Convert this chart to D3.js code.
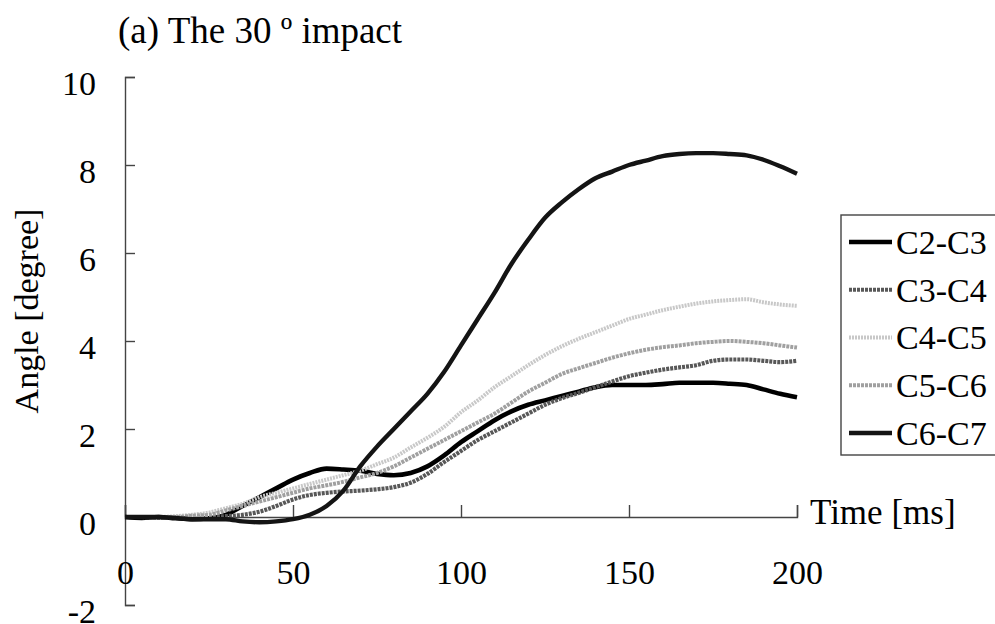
<!DOCTYPE html>
<html>
<head>
<meta charset="utf-8">
<script src="https://cdn.jsdelivr.net/npm/d3@7"></script>
<style>
  html, body { margin: 0; padding: 0; background: #fff; }
  svg { display: block; }
  text { font-family: "Liberation Serif", "Times New Roman", serif; fill: #000; }
</style>
</head>
<body>
<div id="chart"></div>
<script>
// Time samples [ms]
const timeMs = [0, 5, 10, 15, 20, 25, 30, 35, 40, 45, 50, 55, 60, 65, 70, 75, 80, 85, 90, 95,
  100, 105, 110, 115, 120, 125, 130, 135, 140, 145, 150, 155, 160, 165, 170, 175, 180, 185, 190, 195, 200];

// Intervertebral angles [degree]
const c2c3 = [0, -0.02, 0, -0.03, -0.05, -0.03, 0.05, 0.25, 0.45, 0.65, 0.85, 1.0, 1.1, 1.08, 1.05, 0.98, 0.95, 1.0, 1.15, 1.4,
  1.7, 1.95, 2.2, 2.4, 2.55, 2.65, 2.75, 2.85, 2.95, 3.0, 3.0, 3.0, 3.02, 3.05, 3.05, 3.05, 3.03, 3.0, 2.9, 2.8, 2.72];
const c3c4 = [0, 0, -0.02, 0, 0, 0, 0.02, 0.05, 0.12, 0.25, 0.4, 0.5, 0.55, 0.58, 0.6, 0.63, 0.68, 0.78, 0.98, 1.25,
  1.5, 1.75, 1.95, 2.15, 2.35, 2.55, 2.7, 2.82, 2.95, 3.08, 3.2, 3.28, 3.35, 3.4, 3.45, 3.55, 3.58, 3.58, 3.55, 3.52, 3.55];
const c4c5 = [0, 0, 0, 0.02, 0.05, 0.1, 0.2, 0.3, 0.45, 0.55, 0.65, 0.75, 0.85, 0.95, 1.05, 1.2, 1.35, 1.58, 1.8, 2.05,
  2.38, 2.65, 2.95, 3.2, 3.45, 3.68, 3.88, 4.05, 4.2, 4.35, 4.5, 4.6, 4.7, 4.78, 4.85, 4.9, 4.93, 4.95, 4.88, 4.83, 4.8];
const c5c6 = [0, 0, 0, 0, 0.03, 0.05, 0.15, 0.25, 0.35, 0.45, 0.55, 0.65, 0.72, 0.8, 0.9, 1.0, 1.15, 1.35, 1.55, 1.75,
  1.95, 2.15, 2.35, 2.6, 2.85, 3.05, 3.25, 3.38, 3.5, 3.62, 3.72, 3.8, 3.86, 3.9, 3.95, 3.98, 4.0, 3.98, 3.95, 3.9, 3.85];
const c6c7 = [0, 0, 0, -0.02, -0.05, -0.05, -0.05, -0.1, -0.12, -0.1, -0.05, 0.05, 0.25, 0.6, 1.15, 1.6, 2.0, 2.4, 2.8, 3.3,
  3.9, 4.5, 5.1, 5.75, 6.3, 6.8, 7.15, 7.45, 7.7, 7.85, 8.0, 8.1, 8.2, 8.25, 8.27, 8.27, 8.25, 8.22, 8.12, 7.97, 7.8];

const seriesNames = ['C2-C3', 'C3-C4', 'C4-C5', 'C5-C6', 'C6-C7'];
const seriesValues = [c2c3, c3c4, c4c5, c5c6, c6c7];

const xTicks = [0, 50, 100, 150, 200];
const yTicks = [-2, 0, 2, 4, 6, 8, 10];

// Look of each series (greys as in the printed figure)
const seriesStyle = [
  { color: '#000000', width: 4.6, dash: null },
  { color: '#585858', width: 4.2, dash: '3,1' },
  { color: '#c8c8c8', width: 4.0, dash: '2,1' },
  { color: '#a0a0a0', width: 4.0, dash: '3,1' },
  { color: '#141414', width: 4.4, dash: null }
];

const serif = '"Liberation Serif", "Times New Roman", serif';
const width = 995;
const height = 624;
const margin = { top: 77, right: 198, bottom: 19, left: 125 };
const innerWidth = width - margin.left - margin.right;
const innerHeight = height - margin.top - margin.bottom;

const svg = d3.select('#chart')
  .append('svg')
  .attr('width', width)
  .attr('height', height);

const g = svg.append('g')
  .attr('transform', `translate(${margin.left},${margin.top})`);

const xScale = d3.scaleLinear().domain([0, 200]).range([0, innerWidth]);
const yScale = d3.scaleLinear().domain([-2, 10]).range([innerHeight, 0]);

// Y axis, ticks pointing inwards
const yAxis = g.append('g')
  .call(d3.axisLeft(yScale)
    .tickValues(yTicks)
    .tickSize(-10)
    .tickSizeOuter(-10)
    .tickPadding(29)
    .tickFormat(d => String(d)));

// X axis sits on y = 0, ticks pointing up
const xAxis = g.append('g')
  .attr('transform', `translate(0,${yScale(0)})`)
  .call(d3.axisBottom(xScale)
    .tickValues(xTicks)
    .tickSize(-12)
    .tickSizeOuter(-12)
    .tickPadding(0)
    .tickFormat(d => String(d)));

[yAxis, xAxis].forEach(ax => {
  ax.attr('font-family', serif).attr('font-size', 34);
  ax.select('.domain').attr('stroke', '#444').attr('stroke-width', 1.4);
  ax.selectAll('.tick line').attr('stroke', '#444').attr('stroke-width', 1.4);
  ax.selectAll('text').attr('fill', '#000');
});
yAxis.selectAll('text').attr('dy', '0.5em');
xAxis.selectAll('text').attr('y', 44).attr('dy', '0.68em');

// Series lines
const line = d3.line()
  .x((d, i) => xScale(timeMs[i]))
  .y(d => yScale(d))
  .curve(d3.curveMonotoneX);

seriesValues.forEach((values, k) => {
  g.append('path')
    .datum(values)
    .attr('fill', 'none')
    .attr('stroke', seriesStyle[k].color)
    .attr('stroke-width', seriesStyle[k].width)
    .attr('stroke-dasharray', seriesStyle[k].dash)
    .attr('stroke-linejoin', 'round')
    .attr('d', line);
});

// Title
svg.append('text')
  .attr('x', 118)
  .attr('y', 43)
  .style('font-size', '37px')
  .text('(a) The 30 º impact');

// Axis titles
svg.append('text')
  .attr('x', 810)
  .attr('y', 524)
  .style('font-size', '35px')
  .text('Time [ms]');

svg.append('text')
  .attr('transform', 'translate(38,311) rotate(-90)')
  .attr('text-anchor', 'middle')
  .style('font-size', '34px')
  .text('Angle [degree]');

// Legend
const legend = svg.append('g').attr('class', 'legend');

legend.append('rect')
  .attr('x', 841)
  .attr('y', 215)
  .attr('width', 170)
  .attr('height', 240)
  .attr('fill', '#fff')
  .attr('stroke', '#444')
  .attr('stroke-width', 1.4);

const rowY = d3.scalePoint().domain(seriesNames).range([242, 433]);

seriesNames.forEach((name, k) => {
  legend.append('line')
    .attr('x1', 849)
    .attr('x2', 892)
    .attr('y1', rowY(name))
    .attr('y2', rowY(name))
    .attr('stroke', seriesStyle[k].color)
    .attr('stroke-width', seriesStyle[k].width)
    .attr('stroke-dasharray', seriesStyle[k].dash);

  legend.append('text')
    .attr('x', 896)
    .attr('y', rowY(name))
    .attr('dy', '0.35em')
    .style('font-size', '34px')
    .text(name);
});
</script>
</body>
</html>
